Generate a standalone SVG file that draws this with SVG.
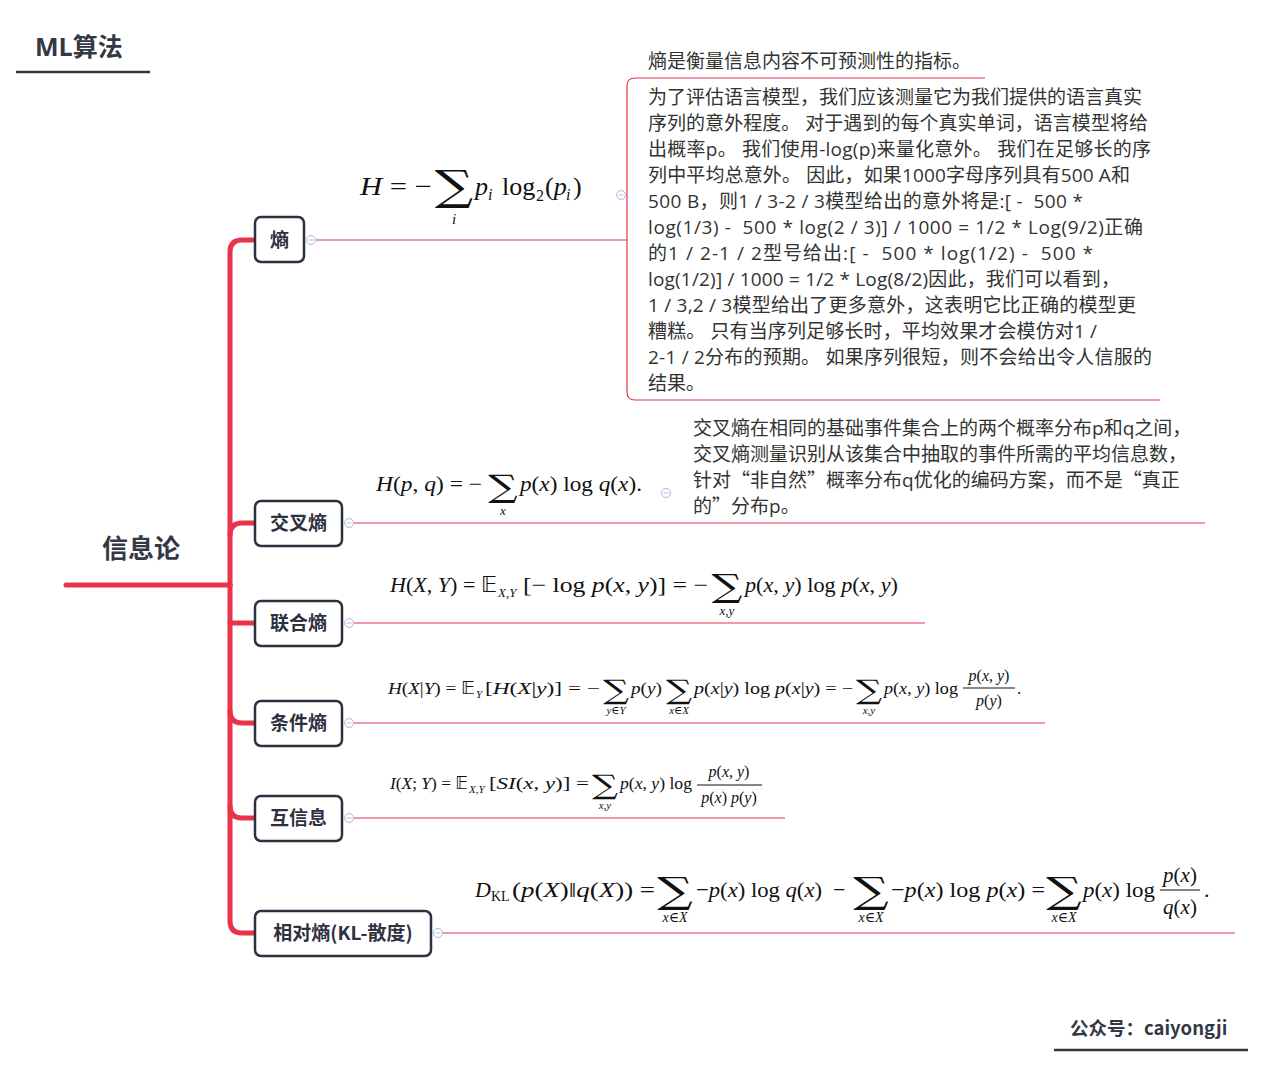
<svg xmlns="http://www.w3.org/2000/svg" width="1265" height="1067" viewBox="0 0 1265 1067">
<style>
.bg{fill:#fff}
.title{font-family:"Noto Sans CJK SC","Liberation Sans",sans-serif;font-weight:bold;fill:#333845}
.node rect{fill:#fff;stroke:#2e3140;stroke-width:2.5}
.node text{font-family:"Noto Sans CJK SC","Liberation Sans",sans-serif;font-weight:bold;font-size:19px;fill:#2e3140;text-anchor:middle}
.body{font-family:"Open Sans","Noto Sans CJK SC",sans-serif;font-size:19px;fill:#333}
.cjk{font-family:"Noto Sans CJK SC",sans-serif}
.thin{fill:none;stroke:#e8334a;stroke-width:1.2}
.thick{fill:none;stroke:#e8334a;stroke-width:5;stroke-linecap:round}
.col circle{fill:#fff;stroke:#aab8e0;stroke-width:1}
.col path{stroke:#aab8e0;stroke-width:1}
.m{font-family:"Liberation Serif","DejaVu Serif",serif;fill:#111}
.i{font-style:italic}
.bb{font-family:"DejaVu Sans","DejaVu Serif",sans-serif;font-style:normal}
.sum{font-family:"DejaVu Serif","Liberation Serif",serif;fill:#111;text-anchor:middle}
.c{text-anchor:middle}
</style>
<rect class="bg" x="0" y="0" width="1265" height="1067"/>

<!-- titles -->
<g id="title">
<text class="title" x="35" y="56" font-size="25"><tspan font-family="Open Sans">ML</tspan>算法</text>
<line x1="16" y1="72" x2="150" y2="72" stroke="#333845" stroke-width="2.5"/>
</g>
<g id="footer">
<text class="title" x="1070" y="1035" font-size="18.5">公众号：caiyongji</text>
<line x1="1054" y1="1050" x2="1248" y2="1050" stroke="#333845" stroke-width="2.5"/>
</g>

<!-- connectors -->
<g id="connectors">
<path class="thick" d="M66,585 H230"/>
<path class="thick" d="M230,585 V252 Q230,240 242,240 H255"/>
<path class="thick" d="M230,585 V921 Q230,933 242,933 H255"/>
<path class="thick" d="M230,535 Q230,523 242,523 H255" stroke-width="4"/>
<path class="thick" d="M230,623 H255" stroke-width="4"/>
<path class="thick" d="M230,711 Q230,723 242,723 H255" stroke-width="4"/>
<path class="thick" d="M230,806 Q230,818 242,818 H255" stroke-width="4"/>
<path class="thin" d="M316,240 H627"/>
<path class="thin" d="M985,78 H635 Q627,78 627,86 V392 Q627,400 635,400 H1160"/>
<path class="thin" d="M354,523 H1205"/>
<path class="thin" d="M354,623 H925"/>
<path class="thin" d="M354,723 H1045"/>
<path class="thin" d="M354,818 H785"/>
<path class="thin" d="M443,933 H1235"/>
</g>

<!-- root -->
<g id="root">
<text class="title" x="141" y="558" font-size="26" text-anchor="middle">信息论</text>
</g>

<!-- nodes -->
<g id="n-shang" class="node"><rect x="255" y="217" width="49" height="45" rx="6"/><text x="279.5" y="247">熵</text></g>
<g id="n-jiaocha" class="node"><rect x="255" y="501" width="87" height="45" rx="6"/><text x="298.5" y="530">交叉熵</text></g>
<g id="n-lianhe" class="node"><rect x="255" y="601" width="87" height="45" rx="6"/><text x="298.5" y="630">联合熵</text></g>
<g id="n-tiaojian" class="node"><rect x="255" y="701" width="87" height="45" rx="6"/><text x="298.5" y="730">条件熵</text></g>
<g id="n-huxinxi" class="node"><rect x="255" y="796" width="87" height="45" rx="6"/><text x="298.5" y="825">互信息</text></g>
<g id="n-kl" class="node"><rect x="255" y="911" width="176" height="45" rx="6"/><text x="343" y="940">相对熵(KL-散度)</text></g>

<!-- collapse buttons -->
<g id="collapsers" class="col">
<circle cx="311" cy="240" r="4.5"/><path d="M308.5,240 H313.5"/>
<circle cx="621" cy="195" r="4.5"/><path d="M618.5,195 H623.5"/>
<circle cx="349" cy="523" r="4.5"/><path d="M346.5,523 H351.5"/>
<circle cx="666" cy="493" r="4.5"/><path d="M663.5,493 H668.5"/>
<circle cx="349" cy="623" r="4.5"/><path d="M346.5,623 H351.5"/>
<circle cx="349" cy="723" r="4.5"/><path d="M346.5,723 H351.5"/>
<circle cx="349" cy="818" r="4.5"/><path d="M346.5,818 H351.5"/>
<circle cx="438" cy="933" r="4.5"/><path d="M435.5,933 H440.5"/>
</g>

<!-- 熵 children texts -->
<g id="t-shang-def">
<text class="body" x="648" y="68">熵是衡量信息内容不可预测性的指标。</text>
</g>
<g id="t-shang-long">
<text class="body" xml:space="preserve" x="648" y="104">为了评估语言模型，我们应该测量它为我们提供的语言真实</text>
<text class="body" xml:space="preserve" x="648" y="130" textLength="500">序列的意外程度。 对于遇到的每个真实单词，语言模型将给</text>
<text class="body" xml:space="preserve" x="648" y="156" textLength="503">出概率p。 我们使用-log(p)来量化意外。 我们在足够长的序</text>
<text class="body" xml:space="preserve" x="648" y="182" textLength="482">列中平均总意外。 因此，如果1000字母序列具有500 A和</text>
<text class="body" xml:space="preserve" x="648" y="208" textLength="435">500 B，则1 / 3-2 / 3模型给出的意外将是:[ -  500 *</text>
<text class="body" xml:space="preserve" x="648" y="234" textLength="495">log(1/3) -  500 * log(2 / 3)] / 1000 = 1/2 * Log(9/2)正确</text>
<text class="body" xml:space="preserve" x="648" y="260" textLength="445">的1 / 2-1 / 2型号给出:[ -  500 * log(1/2) -  500 *</text>
<text class="body" xml:space="preserve" x="648" y="286" textLength="472">log(1/2)] / 1000 = 1/2 * Log(8/2)因此，我们可以看到，</text>
<text class="body" xml:space="preserve" x="648" y="312" textLength="488">1 / 3,2 / 3模型给出了更多意外，这表明它比正确的模型更</text>
<text class="body" xml:space="preserve" x="648" y="338" textLength="449">糟糕。 只有当序列足够长时，平均效果才会模仿对1 /</text>
<text class="body" xml:space="preserve" x="648" y="364" textLength="504">2-1 / 2分布的预期。 如果序列很短，则不会给出令人信服的</text>
<text class="body" xml:space="preserve" x="648" y="390">结果。</text>
</g>
<g id="t-jiaocha">
<text class="body" x="693" y="435">交叉熵在相同的基础事件集合上的两个概率分布p和q之间，</text>
<text class="body" x="693" y="461">交叉熵测量识别从该集合中抽取的事件所需的平均信息数，</text>
<text class="body" x="693" y="487">针对<tspan class="cjk">“</tspan>非自然<tspan class="cjk">”</tspan>概率分布q优化的编码方案，而不是<tspan class="cjk">“</tspan>真正</text>
<text class="body" x="693" y="513">的<tspan class="cjk">”</tspan>分布p。</text>
</g>

<!-- Formula 1 -->
<g id="f-shang" class="m">
<text x="360" y="195" font-size="26" textLength="72" lengthAdjust="spacingAndGlyphs"><tspan class="i">H</tspan> = −</text>
<text class="sum" transform="translate(454,200) scale(1.28,1)" font-size="42">∑</text>
<text class="i c" x="454" y="224" font-size="15">i</text>
<text x="475" y="195" font-size="26" class="i">p</text>
<text x="488" y="200" font-size="16" class="i">i</text>
<text x="502" y="195" font-size="26">log</text>
<text x="536" y="201" font-size="16">2</text>
<text x="545" y="195" font-size="26">(<tspan class="i">p</tspan></text>
<text x="566" y="200" font-size="16" class="i">i</text>
<text x="573" y="195" font-size="26">)</text>
</g>

<!-- Formula 2 -->
<g id="f-jiaocha" class="m">
<text x="376" y="491" font-size="21" textLength="106" lengthAdjust="spacingAndGlyphs"><tspan class="i">H</tspan>(<tspan class="i">p</tspan>, <tspan class="i">q</tspan>) = −</text>
<text class="sum" transform="translate(503,497) scale(1.33,1)" font-size="31">∑</text>
<text class="i c" x="503" y="515" font-size="13">x</text>
<text x="520" y="491" font-size="21" textLength="122" lengthAdjust="spacingAndGlyphs"><tspan class="i">p</tspan>(<tspan class="i">x</tspan>)  log <tspan class="i">q</tspan>(<tspan class="i">x</tspan>).</text>
</g>

<!-- Formula 3 -->
<g id="f-lianhe" class="m">
<text x="390" y="592" font-size="21" textLength="107" lengthAdjust="spacingAndGlyphs"><tspan class="i">H</tspan>(<tspan class="i">X</tspan>, <tspan class="i">Y</tspan>) = <tspan class="bb">𝔼</tspan></text>
<text class="i" x="498" y="597" font-size="13">X,Y</text>
<text x="523" y="592" font-size="21" textLength="185" lengthAdjust="spacingAndGlyphs">[− log <tspan class="i">p</tspan>(<tspan class="i">x</tspan>, <tspan class="i">y</tspan>)] = −</text>
<text class="sum" transform="translate(727,597) scale(1.35,1)" font-size="32">∑</text>
<text class="i c" x="727" y="615" font-size="13">x,y</text>
<text x="745" y="592" font-size="21" textLength="153" lengthAdjust="spacingAndGlyphs"><tspan class="i">p</tspan>(<tspan class="i">x</tspan>, <tspan class="i">y</tspan>) log <tspan class="i">p</tspan>(<tspan class="i">x</tspan>, <tspan class="i">y</tspan>)</text>
</g>

<!-- Formula 4 -->
<g id="f-tiaojian" class="m">
<text x="388" y="694" font-size="17" textLength="87" lengthAdjust="spacingAndGlyphs"><tspan class="i">H</tspan>(<tspan class="i">X</tspan>|<tspan class="i">Y</tspan>) = <tspan class="bb">𝔼</tspan></text>
<text class="i" x="476" y="698" font-size="11">Y</text>
<text x="485" y="694" font-size="17" textLength="115" lengthAdjust="spacingAndGlyphs">[<tspan class="i">H</tspan>(<tspan class="i">X</tspan>|<tspan class="i">y</tspan>)] = −</text>
<text class="sum" transform="translate(616,699) scale(1.35,1)" font-size="27">∑</text>
<text class="i c" x="616" y="714" font-size="11">y∈Y</text>
<text x="631" y="694" font-size="17" textLength="31" lengthAdjust="spacingAndGlyphs"><tspan class="i">p</tspan>(<tspan class="i">y</tspan>)</text>
<text class="sum" transform="translate(679,699) scale(1.35,1)" font-size="27">∑</text>
<text class="i c" x="679" y="714" font-size="11">x∈X</text>
<text x="694" y="694" font-size="17" textLength="159" lengthAdjust="spacingAndGlyphs"><tspan class="i">p</tspan>(<tspan class="i">x</tspan>|<tspan class="i">y</tspan>) log <tspan class="i">p</tspan>(<tspan class="i">x</tspan>|<tspan class="i">y</tspan>) = −</text>
<text class="sum" transform="translate(869,699) scale(1.35,1)" font-size="27">∑</text>
<text class="i c" x="869" y="714" font-size="11">x,y</text>
<text x="884" y="694" font-size="17" textLength="74" lengthAdjust="spacingAndGlyphs"><tspan class="i">p</tspan>(<tspan class="i">x</tspan>, <tspan class="i">y</tspan>) log</text>
<text class="c" x="989" y="681" font-size="16"><tspan class="i">p</tspan>(<tspan class="i">x</tspan>, <tspan class="i">y</tspan>)</text>
<line x1="963" y1="688" x2="1015" y2="688" stroke="#111" stroke-width="1"/>
<text class="c" x="989" y="706" font-size="16"><tspan class="i">p</tspan>(<tspan class="i">y</tspan>)</text>
<text x="1017" y="694" font-size="17">.</text>
</g>

<!-- Formula 5 -->
<g id="f-huxinxi" class="m">
<text x="390" y="789" font-size="17" textLength="78" lengthAdjust="spacingAndGlyphs"><tspan class="i">I</tspan>(<tspan class="i">X</tspan>; <tspan class="i">Y</tspan>) = <tspan class="bb">𝔼</tspan></text>
<text class="i" x="469" y="793" font-size="11">X,Y</text>
<text x="489" y="789" font-size="17" textLength="100" lengthAdjust="spacingAndGlyphs">[<tspan class="i">SI</tspan>(<tspan class="i">x</tspan>, <tspan class="i">y</tspan>)] =</text>
<text class="sum" transform="translate(605,794) scale(1.35,1)" font-size="27">∑</text>
<text class="i c" x="605" y="809" font-size="11">x,y</text>
<text x="620" y="789" font-size="17" textLength="72" lengthAdjust="spacingAndGlyphs"><tspan class="i">p</tspan>(<tspan class="i">x</tspan>, <tspan class="i">y</tspan>) log</text>
<text class="c" x="729" y="777" font-size="16"><tspan class="i">p</tspan>(<tspan class="i">x</tspan>, <tspan class="i">y</tspan>)</text>
<line x1="697" y1="785" x2="762" y2="785" stroke="#111" stroke-width="1"/>
<text class="c" x="729" y="803" font-size="16"><tspan class="i">p</tspan>(<tspan class="i">x</tspan>) <tspan class="i">p</tspan>(<tspan class="i">y</tspan>)</text>
</g>

<!-- Formula 6 -->
<g id="f-kl" class="m">
<text x="475" y="897" font-size="22" class="i">D</text>
<text x="491" y="901" font-size="14">KL</text>
<text x="512" y="897" font-size="22" textLength="143" lengthAdjust="spacingAndGlyphs">(<tspan class="i">p</tspan>(<tspan class="i">X</tspan>)‖<tspan class="i">q</tspan>(<tspan class="i">X</tspan>)) =</text>
<text class="sum" transform="translate(675,903) scale(1.38,1)" font-size="36">∑</text>
<text class="i c" x="675" y="922" font-size="14">x∈X</text>
<text x="696" y="897" font-size="22" textLength="126" lengthAdjust="spacingAndGlyphs">−<tspan class="i">p</tspan>(<tspan class="i">x</tspan>) log <tspan class="i">q</tspan>(<tspan class="i">x</tspan>)</text>
<text x="833" y="897" font-size="22">−</text>
<text class="sum" transform="translate(871,903) scale(1.38,1)" font-size="36">∑</text>
<text class="i c" x="871" y="922" font-size="14">x∈X</text>
<text x="891" y="897" font-size="22" textLength="154" lengthAdjust="spacingAndGlyphs">−<tspan class="i">p</tspan>(<tspan class="i">x</tspan>) log <tspan class="i">p</tspan>(<tspan class="i">x</tspan>) =</text>
<text class="sum" transform="translate(1064,903) scale(1.38,1)" font-size="36">∑</text>
<text class="i c" x="1064" y="922" font-size="14">x∈X</text>
<text x="1083" y="897" font-size="22" textLength="72" lengthAdjust="spacingAndGlyphs"><tspan class="i">p</tspan>(<tspan class="i">x</tspan>) log</text>
<text class="c" x="1180" y="882" font-size="21"><tspan class="i">p</tspan>(<tspan class="i">x</tspan>)</text>
<line x1="1160" y1="890" x2="1200" y2="890" stroke="#111" stroke-width="1.2"/>
<text class="c" x="1180" y="914" font-size="21"><tspan class="i">q</tspan>(<tspan class="i">x</tspan>)</text>
<text x="1204" y="897" font-size="22">.</text>
</g>
</svg>
